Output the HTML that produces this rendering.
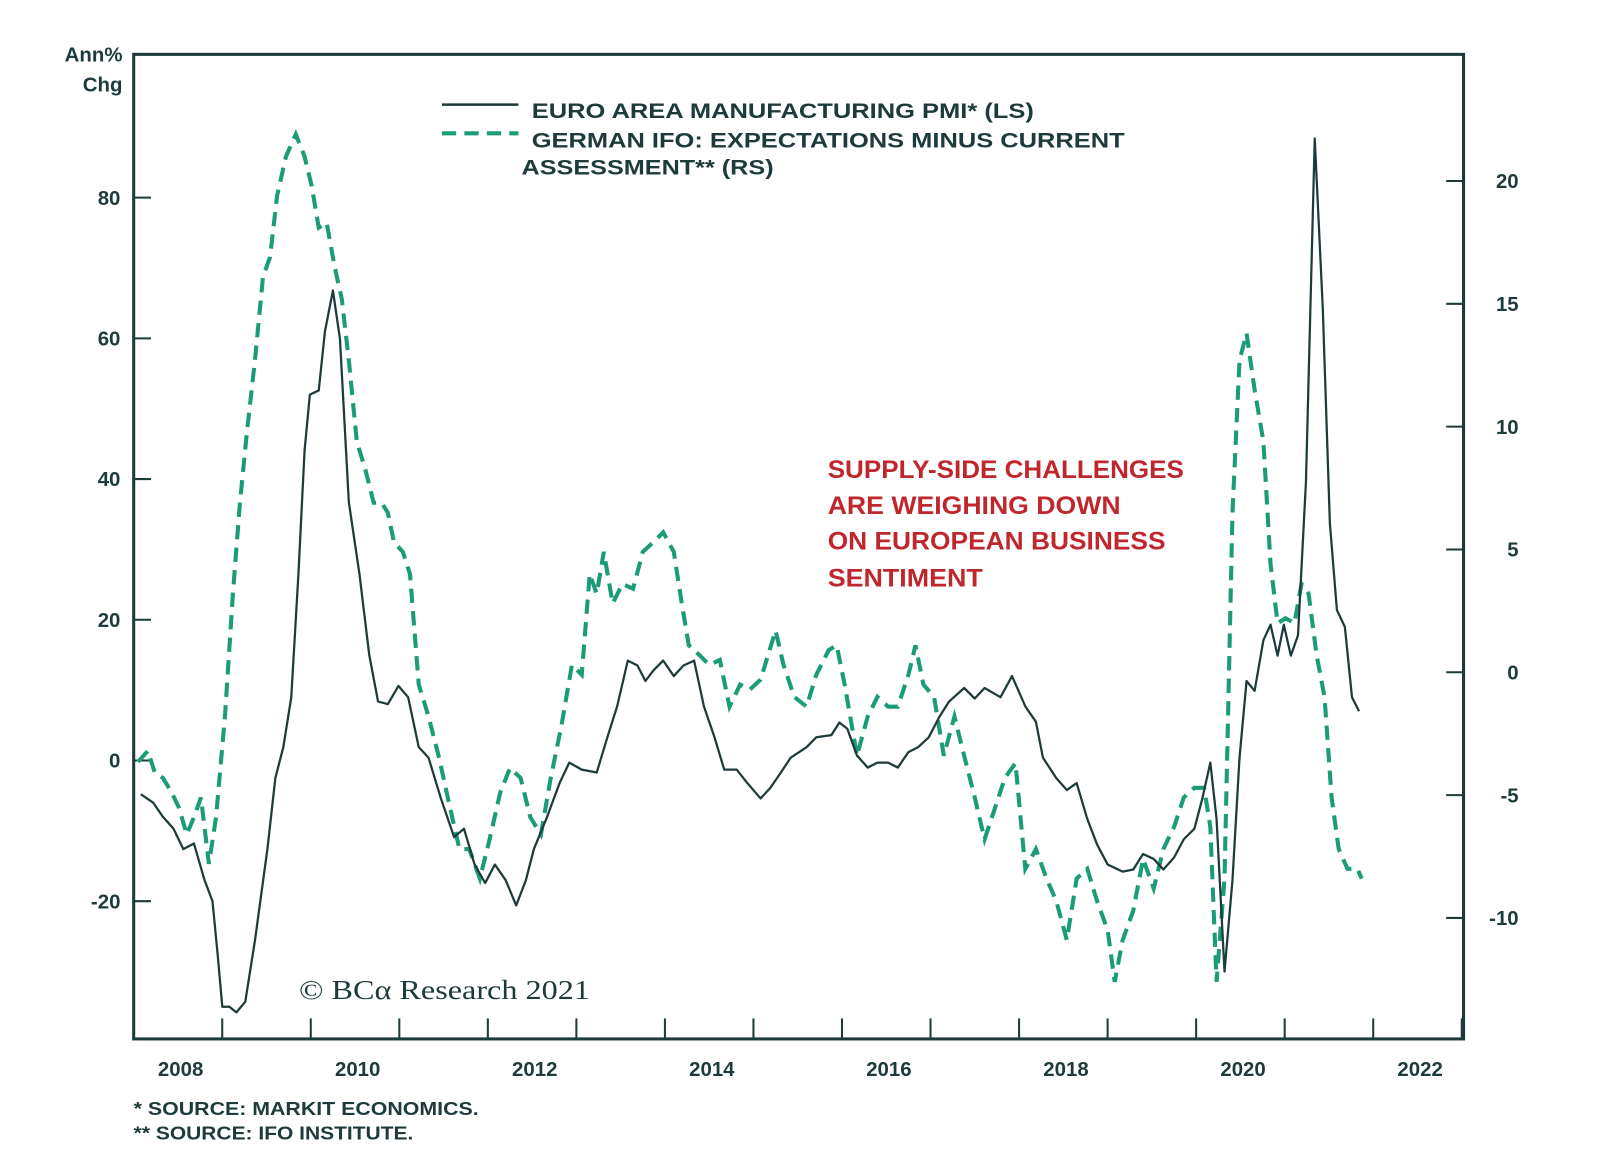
<!DOCTYPE html>
<html><head><meta charset="utf-8"><style>
html,body{margin:0;padding:0;background:#fff;}
svg{display:block;font-family:"Liberation Sans",Arial,sans-serif;}
</style></head><body>
<svg id="chart" width="1600" height="1172" viewBox="0 0 1600 1172">
<g transform="scale(1.0206,1.0256)">
<g id="axes"></g><g id="series"></g>
<g>
<line x1="433" y1="102" x2="508" y2="102" stroke="#1e3a3a" stroke-width="2.5"/>
<line x1="433" y1="130" x2="508" y2="130" stroke="#1a9c78" stroke-width="4" stroke-dasharray="14,8"/>
<text x="521" y="115" font-size="21" font-weight="bold" fill="#1e3a3a" textLength="492" lengthAdjust="spacingAndGlyphs">EURO AREA MANUFACTURING PMI* (LS)</text>
<text x="521" y="144" font-size="21" font-weight="bold" fill="#1e3a3a" textLength="581" lengthAdjust="spacingAndGlyphs">GERMAN IFO: EXPECTATIONS MINUS CURRENT</text>
<text x="511" y="170" font-size="21" font-weight="bold" fill="#1e3a3a" textLength="247" lengthAdjust="spacingAndGlyphs">ASSESSMENT** (RS)</text>
</g>
<g font-size="24" font-weight="bold" fill="#c0272d">
<text x="811" y="466" textLength="349" lengthAdjust="spacingAndGlyphs">SUPPLY-SIDE CHALLENGES</text>
<text x="811" y="501" textLength="287" lengthAdjust="spacingAndGlyphs">ARE WEIGHING DOWN</text>
<text x="811" y="536" textLength="331" lengthAdjust="spacingAndGlyphs">ON EUROPEAN BUSINESS</text>
<text x="811" y="572" textLength="152" lengthAdjust="spacingAndGlyphs">SENTIMENT</text>
</g>
<text x="293" y="974" font-family="Liberation Serif,serif" font-size="27" fill="#1e3a3a" textLength="285" lengthAdjust="spacingAndGlyphs">© BCα Research 2021</text>
<text x="120" y="60" text-anchor="end" font-size="20" font-weight="bold" fill="#1e3a3a">Ann%</text>
<text x="120" y="89" text-anchor="end" font-size="20" font-weight="bold" fill="#1e3a3a">Chg</text>
<text x="131" y="1087" font-size="18" font-weight="bold" fill="#1e3a3a" textLength="338" lengthAdjust="spacingAndGlyphs">*  SOURCE: MARKIT ECONOMICS.</text>
<text x="131" y="1111" font-size="18" font-weight="bold" fill="#1e3a3a" textLength="274" lengthAdjust="spacingAndGlyphs">** SOURCE: IFO INSTITUTE.</text>
</g>
</svg>
<script>
const leftTicks=[80,60,40,20,0,-20];
const rightTicks=[20,15,10,5,0,-5,-10];
const yearLabels=[2008,2010,2012,2014,2016,2018,2020,2022];
const pmiDates=[0.08,0.22,0.33,0.45,0.56,0.68,0.80,0.89,0.95,1.00,1.08,1.16,1.26,1.37,1.51,1.60,1.69,1.78,1.86,1.93,1.99,2.09,2.16,2.25,2.33,2.43,2.55,2.66,2.76,2.87,2.99,3.10,3.22,3.33,3.47,3.62,3.73,3.85,3.97,4.08,4.20,4.32,4.43,4.52,4.66,4.81,4.92,5.06,5.23,5.35,5.46,5.58,5.69,5.78,5.87,5.98,6.10,6.21,6.33,6.44,6.56,6.67,6.81,6.93,7.08,7.19,7.31,7.42,7.60,7.71,7.88,7.97,8.06,8.17,8.29,8.40,8.52,8.63,8.75,8.86,8.98,9.10,9.21,9.38,9.50,9.61,9.79,9.92,10.07,10.19,10.27,10.42,10.54,10.65,10.77,10.88,11.00,11.17,11.29,11.40,11.52,11.63,11.75,11.86,11.98,12.07,12.16,12.23,12.32,12.41,12.49,12.57,12.66,12.76,12.84,12.92,12.99,13.07,13.15,13.24,13.34,13.43,13.51,13.59,13.68,13.76,13.84];
const pmiValues=[-4.8,-6,-8,-9.7,-12.6,-11.8,-17,-20,-27.8,-35,-35,-35.8,-34.3,-25.6,-12.6,-2.5,1.9,9,26.5,44,52,52.6,61,66.8,59.9,36.7,26.5,15,8.4,8,10.6,9,1.9,0.4,-5.4,-10.9,-9.7,-14.8,-17.4,-14.8,-17,-20.6,-17,-12.6,-8.3,-3.2,-0.3,-1.3,-1.7,3.3,7.7,14.2,13.5,11.3,12.8,14.2,12,13.5,14.2,7.7,3.3,-1.3,-1.3,-3.2,-5.4,-3.9,-1.7,0.4,1.9,3.3,3.6,5.4,4.5,0.7,-1,-0.3,-0.3,-1,1.2,1.9,3.3,6.2,8.4,10.3,8.8,10.3,9,12,7.7,5.5,0.4,-2.5,-4.2,-3.2,-8.3,-11.9,-14.8,-15.8,-15.5,-13.3,-14,-15.5,-13.8,-11.2,-9.7,-5.4,-0.3,-8.3,-30,-17,0.4,11.3,9.9,17.1,19.3,14.9,19.3,14.9,17.8,39.6,88.4,64.2,33.8,21.4,19,9,7];
const ifoDates=[0.05,0.16,0.24,0.33,0.43,0.51,0.60,0.68,0.76,0.85,0.93,1.03,1.12,1.20,1.28,1.37,1.46,1.54,1.62,1.72,1.83,1.93,2.01,2.09,2.18,2.27,2.35,2.43,2.52,2.62,2.71,2.80,2.87,2.94,3.04,3.12,3.22,3.33,3.45,3.56,3.68,3.79,3.91,4.02,4.14,4.25,4.37,4.48,4.60,4.71,4.83,4.95,5.06,5.15,5.23,5.31,5.41,5.52,5.64,5.75,5.87,5.98,6.10,6.19,6.27,6.39,6.50,6.62,6.73,6.85,6.96,7.08,7.25,7.34,7.46,7.60,7.71,7.85,7.94,8.03,8.17,8.29,8.40,8.52,8.63,8.75,8.83,8.92,9.04,9.15,9.27,9.38,9.50,9.61,9.73,9.84,9.96,10.07,10.19,10.31,10.42,10.54,10.65,10.77,10.88,11.00,11.08,11.17,11.29,11.40,11.52,11.63,11.75,11.86,11.98,12.09,12.16,12.23,12.32,12.41,12.49,12.57,12.66,12.76,12.84,12.92,13.01,13.11,13.19,13.27,13.36,13.45,13.53,13.61,13.71,13.82,13.87];
const ifoValues=[-3.65,-3.2,-4.1,-4.3,-4.9,-5.5,-6.6,-5.9,-5.1,-7.8,-5.9,-1.8,3.2,6.9,9.8,12.7,16.1,16.9,19.4,21,21.9,21,19.8,18.1,18.3,16.5,15.2,12.7,9.4,8.2,6.9,6.9,6.5,5.3,4.9,4,-0.5,-1.8,-3.5,-5.3,-7.2,-7.2,-8.4,-6.8,-4.9,-3.9,-4.3,-5.9,-6.6,-4.3,-2.2,0.3,-0.1,4,3.2,4.9,2.8,3.6,3.4,4.9,5.3,5.7,4.9,2.8,1.1,0.7,0.3,0.5,-1.4,-0.5,-0.7,-0.3,1.7,0.3,-1,-1.4,-0.1,0.9,1.1,-0.5,-3.4,-1.8,-1,-1.4,-1.4,-0.1,1.1,-0.5,-1,-3.4,-1.8,-3.4,-5.1,-6.8,-5.5,-4.3,-3.7,-8,-7.2,-8.4,-9.3,-10.9,-8.4,-8,-9.3,-10.5,-12.6,-10.9,-9.7,-7.6,-8.8,-7.2,-6.3,-5.1,-4.7,-4.7,-6.3,-12.6,-8.4,6.5,12.7,13.8,11.5,9.4,4.4,2,2.2,2,3.6,3.2,0.7,-1,-5.1,-7.2,-8,-8,-8.4];

const L=131,R=1434,T=53,B=1013;
const xs=t=>L+(t-2008)*86.75;
const yL=v=>741.5-v*6.86;
const yR=v=>655.5-v*23.95;
const NS='http://www.w3.org/2000/svg';
function mk(tag,attrs,parent){const e=document.createElementNS(NS,tag);for(const k in attrs)e.setAttribute(k,attrs[k]);parent.appendChild(e);return e;}
const axes=document.getElementById('axes'),series=document.getElementById('series');
const C='#1e3a3a';
const frame=mk('rect',{x:L,y:T,width:R-L,height:B-T,fill:'none',stroke:C,'stroke-width':3},axes);


leftTicks.forEach(v=>{
  mk('line',{x1:L,x2:L+17,y1:yL(v),y2:yL(v),stroke:C,'stroke-width':2},axes);
  const t=mk('text',{x:118,y:yL(v)+7,'text-anchor':'end','font-size':20,'font-weight':'bold',fill:C},axes);
  t.textContent=v;
  
  
});
rightTicks.forEach(v=>{
  mk('line',{x1:R-17,x2:R,y1:yR(v),y2:yR(v),stroke:C,'stroke-width':2},axes);
  const t=mk('text',{x:1488,y:yR(v)+7,'text-anchor':'end','font-size':20,'font-weight':'bold',fill:C},axes);
  t.textContent=v;
  
  
});
for(let y=2008;y<=2023;y++){mk('line',{x1:xs(y),x2:xs(y),y1:B,y2:B-20,stroke:C,'stroke-width':2},axes);}
yearLabels.forEach(y=>{
  const t=mk('text',{x:xs(y+0.53),y:1049,'text-anchor':'middle','font-size':20,'font-weight':'bold',fill:C},axes);
  t.textContent=y;
  
  
});
const ifoPts=ifoDates.map((d,i)=>xs(2008+d).toFixed(1)+','+yR(ifoValues[i]).toFixed(1)).join(' ');
const ifo=mk('polyline',{points:ifoPts,fill:'none',stroke:'#1a9c78','stroke-width':4,'stroke-dasharray':'14,8'},series);


const pmiPts=pmiDates.map((d,i)=>xs(2008+d).toFixed(1)+','+yL(pmiValues[i]).toFixed(1)).join(' ');
const pmi=mk('polyline',{points:pmiPts,fill:'none',stroke:C,'stroke-width':2.2,'stroke-linejoin':'round'},series);


</script>
</body></html>
